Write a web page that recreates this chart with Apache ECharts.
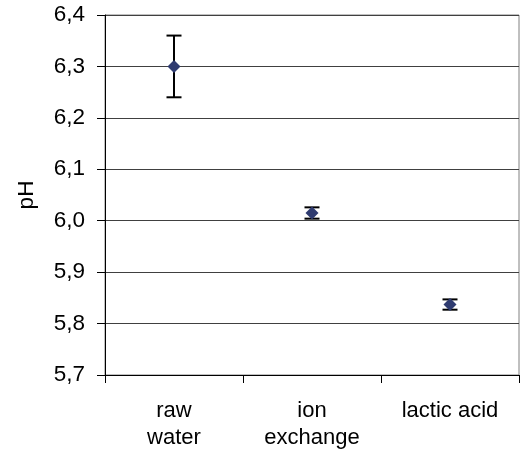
<!DOCTYPE html>
<html>
<head>
<meta charset="utf-8">
<script src="https://cdn.jsdelivr.net/npm/echarts@6/dist/echarts.min.js"></script>
<style>html,body{margin:0;padding:0;background:#fff}#c{width:521px;height:452px}</style>
</head>
<body>
<div id="c"></div>
<script>
var categories = ['raw\nwater', 'ion\nexchange', 'lactic acid'];
var phMean = [6.30, 6.015, 5.837];
var phErr = [0.06, 0.011, 0.01];
var yTicks = [5.7, 5.8, 5.9, 6.0, 6.1, 6.2, 6.3, 6.4];

var errData = phMean.map(function (m, i) { return [i, m - phErr[i], m + phErr[i]]; });

var FONT = 'Liberation Sans, Arial, sans-serif';
var chart = echarts.init(document.getElementById('c'), null, { renderer: 'canvas' });
chart.setOption({
  animation: false,
  backgroundColor: '#fff',
  textStyle: { fontFamily: FONT },
  grid: { left: 105, right: 2, top: 15, bottom: 77, show: true, borderColor: '#808080', borderWidth: 1 },
  xAxis: {
    type: 'category',
    data: categories,
    boundaryGap: true,
    axisLine: { lineStyle: { color: '#000', width: 1 } },
    axisTick: { show: true, length: 8, interval: 0, lineStyle: { color: '#000' } },
    axisLabel: { color: '#000', fontSize: 22, lineHeight: 27, margin: 22, interval: 0, fontFamily: FONT },
    splitLine: { show: false }
  },
  yAxis: {
    type: 'value',
    min: yTicks[0],
    max: yTicks[yTicks.length - 1],
    interval: 0.1,
    name: 'pH',
    nameLocation: 'middle',
    nameGap: 67,
    nameTextStyle: { color: '#000', fontSize: 22.5, fontFamily: FONT },
    axisLine: { show: true, lineStyle: { color: '#000', width: 1 } },
    axisTick: { show: true, length: 8, lineStyle: { color: '#000' } },
    axisLabel: {
      color: '#000', fontSize: 22.5, margin: 20, fontFamily: FONT,
      formatter: function (v) { return v.toFixed(1).replace('.', ','); }
    },
    splitLine: { show: true, lineStyle: { color: '#404040', width: 1 } }
  },
  series: [
    {
      type: 'custom',
      data: errData,
      z: 2,
      renderItem: function (params, api) {
        var x = api.value(0);
        var lo = api.coord([x, api.value(1)]);
        var hi = api.coord([x, api.value(2)]);
        var hw = 7.5;
        var st = { stroke: '#000', lineWidth: 2 };
        return {
          type: 'group',
          children: [
            { type: 'line', shape: { x1: lo[0], y1: lo[1], x2: hi[0], y2: hi[1] }, style: st },
            { type: 'line', shape: { x1: lo[0] - hw, y1: lo[1], x2: lo[0] + hw, y2: lo[1] }, style: st },
            { type: 'line', shape: { x1: hi[0] - hw, y1: hi[1], x2: hi[0] + hw, y2: hi[1] }, style: st }
          ]
        };
      }
    },
    {
      type: 'scatter',
      data: phMean,
      symbol: 'diamond',
      symbolSize: 13,
      z: 3,
      itemStyle: { color: '#2F3B70', opacity: 1 }
    }
  ]
});
</script>
</body>
</html>
